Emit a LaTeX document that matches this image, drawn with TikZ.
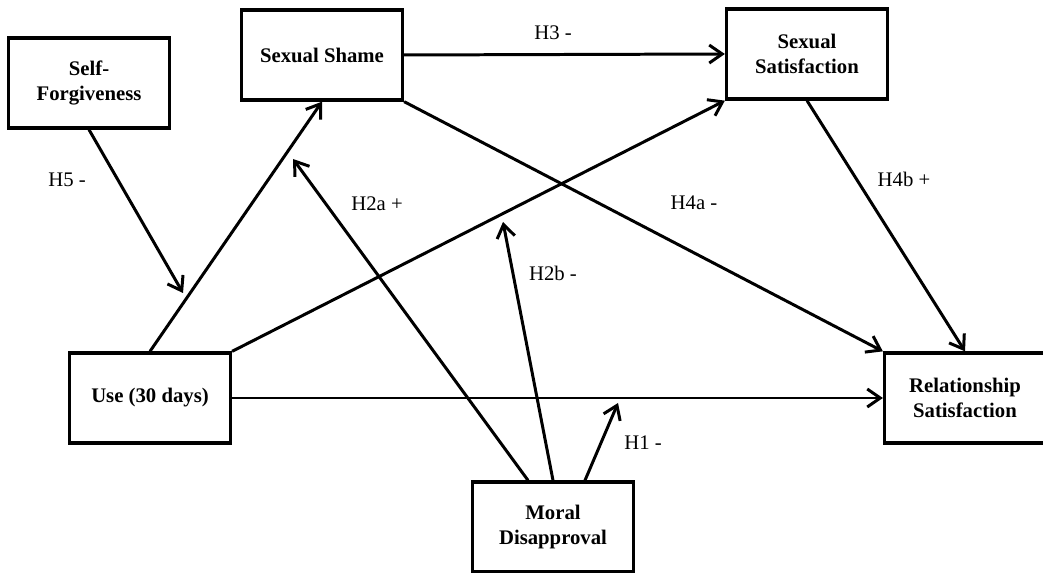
\documentclass[tikz,border=0pt]{standalone}
\usepackage{fontspec}
\setmainfont{Liberation Serif}
\usepackage{tikz}
\usetikzlibrary{arrows.meta}
\tikzstyle{construct}=[rectangle, draw=black, line width=1.9pt, minimum width=3.22cm,
        minimum height=1.8cm, text centered, align=center, font=\bfseries\fontsize{11.8}{14.2}\selectfont]
\tikzstyle{hyp}=[-{Straight Barb[length=2.6mm,width=3.6mm]}, line width=1.7pt]
\tikzstyle{hlabel}=[font=\fontsize{11.8}{14.2}\selectfont]

\begin{document}
\begin{tikzpicture}[x=0.02cm, y=-0.02cm]
        \useasboundingbox (0,0) rectangle (1043,573);
        % constructs
        \node (SelfForgiveness) [construct] at (89,83) {Self-\\Forgiveness};
        \node (Shame) [construct] at (322,55) {Sexual Shame};
        \node (SexSat) [construct] at (807,54) {Sexual\\Satisfaction};
        \node (Use) [construct] at (150,398) {Use (30 days)};
        \node (RelSat) [construct] at (965,398) {Relationship\\Satisfaction};
        \node (Moral) [construct] at (553,527) {Moral\\Disapproval};
        % moderator tips
        \coordinate (h5tip) at (183,293);
        \coordinate (h2atip) at (293,159);
        \coordinate (h2btip) at (503,222);
        \coordinate (h1tip) at (618,403);
        \coordinate (m1) at ([xshift=-0.5cm]Moral.north);
        \coordinate (m3) at ([xshift=0.64cm]Moral.north);
        % paths
        \draw [hyp] (Use.north) -- (Shame.south);
        \draw [hyp] (Use.north east) -- (SexSat.south west);
        \draw [hyp] (Use.east) -- (RelSat.west);
        \draw [hyp] (Shame.east) -- (SexSat.west);
        \draw [hyp] (Shame.south east) -- (RelSat.north west);
        \draw [hyp] (SexSat.south) -- (RelSat.north);
        \draw [hyp] (SelfForgiveness.south) -- (h5tip);
        \draw [hyp] (m1) -- (h2atip);
        \draw [hyp] (Moral.north) -- (h2btip);
        \draw [hyp] (m3) -- (h1tip);
        % labels
        \node (lblH3) [hlabel] at (553,33) {H3 -};
        \node (lblH5) [hlabel] at (67,180) {H5 -};
        \node (lblH2a) [hlabel] at (377,204) {H2a +};
        \node (lblH4a) [hlabel] at (694,203) {H4a -};
        \node (lblH4b) [hlabel] at (904,179) {H4b +};
        \node (lblH2b) [hlabel] at (553,273) {H2b -};
        \node (lblH1) [hlabel] at (643,443) {H1 -};
\end{tikzpicture}
\end{document}
